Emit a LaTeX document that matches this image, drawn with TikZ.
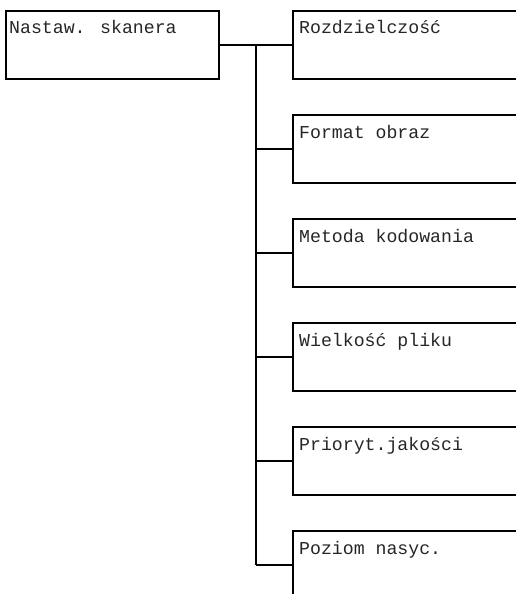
\documentclass[tikz,border=0pt]{standalone}
\usepackage{fontspec}
\newfontfamily\menufont{Liberation Mono}
\begin{document}
\begin{tikzpicture}[x=1pt,y=-1pt,
  menubox/.style={draw, line width=2pt, minimum height=68pt, outer sep=0pt, inner sep=0pt, anchor=north west},
  leftbox/.style={menubox, minimum width=213pt},
  rightbox/.style={menubox, minimum width=260pt},
  menutext/.style={anchor=base west, inner sep=0pt, text=black!85, font=\menufont\fontsize{18.2}{20}\selectfont},
  link/.style={line width=2pt}]
\useasboundingbox (0,0) rectangle (516,594);
\clip (0,0) rectangle (516,594);
\node[leftbox] (a) at (6,11) {};
\node[menutext] (ta) at (9,34) {Nastaw. skanera};
\foreach \i/\t in {0/Rozdzielczość,1/Format obraz,2/Metoda kodowania,3/Wielkość pliku,4/Prioryt.jakości,5/Poziom nasyc.}{
  \node[rightbox] (b\i) at (293,11+104*\i) {};
  \node[menutext] (t\i) at (299,34+104*\i) {\t};
}
\coordinate (j0) at (256,45);
\coordinate (j5) at (256,565);
\draw[link] (a.east) -- (b0.west);
\draw[link] (j0) -- (j5);
\foreach \i in {1,...,5}{
  \draw[link] (b\i.west -| j0) -- (b\i.west);
}
\end{tikzpicture}
\end{document}
